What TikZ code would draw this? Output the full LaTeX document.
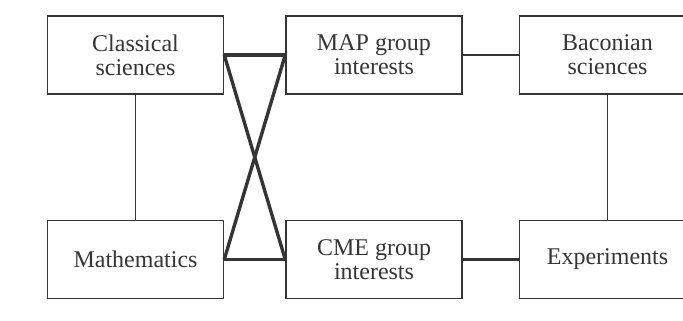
\documentclass[tikz,border=0pt]{standalone}
\usepackage{fontspec}
\setmainfont{Liberation Serif}
\usetikzlibrary{positioning}
\definecolor{ink}{HTML}{353535}

\begin{document}
\begin{tikzpicture}[x=1pt,y=-1pt,
    box/.style={draw=ink, line width=1.5pt, text=ink, align=center,
      minimum width=176pt, minimum height=78pt, inner sep=0pt,
      font=\fontsize{24}{24}\selectfont},
    link/.style={draw=ink, line width=2.6pt},
    heavylink/.style={draw=ink, line width=3.4pt},
    thinlink/.style={draw=ink, line width=1.4pt}]
  \clip (0,0) rectangle (683,321);

  % upper row
  \node[box] (classical) at (135.5,55) {Classical\\sciences};
  \node[box] (map) [right=61pt of classical] {MAP group\\interests};
  \node[box] (baconian) [right=56pt of map] {Baconian\\sciences};

  % lower row
  \node[box] (maths) [below=125pt of classical] {Mathematics};
  \node[box] (cme) [right=61pt of maths] {CME group\\interests};
  \node[box] (experiments) [right=56pt of cme] {Experiments};

  % links and the cross
  \draw[heavylink] (classical.east) -- (map.west);
  \draw[heavylink] (maths.east) -- (cme.west);
  \draw[heavylink] (classical.east) -- (cme.west);
  \draw[heavylink] (map.west) -- (maths.east);
  \draw[link] (map.east) -- (baconian.west);
  \draw[link] (cme.east) -- (experiments.west);

  % verticals
  \draw[thinlink] (classical.south) -- (maths.north);
  \draw[thinlink] (baconian.south) -- (experiments.north);
\end{tikzpicture}
\end{document}
